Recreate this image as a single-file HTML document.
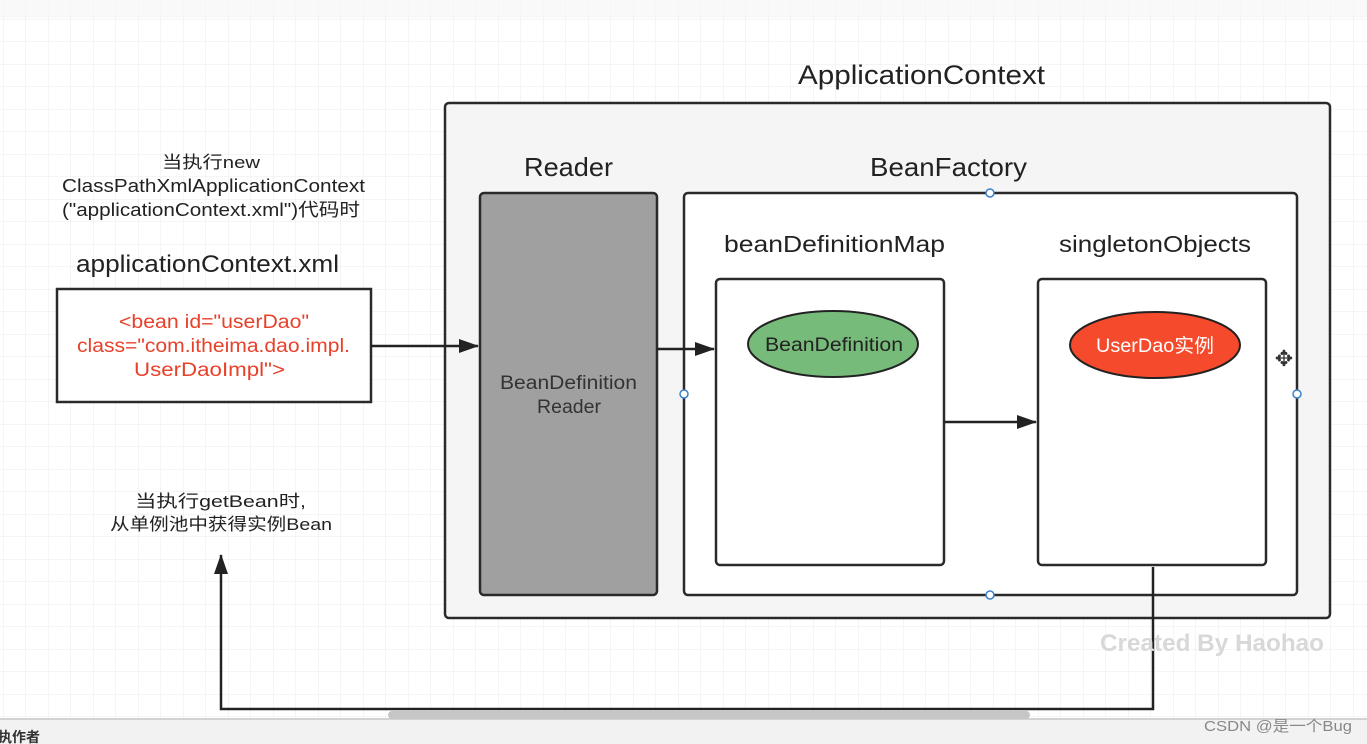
<!DOCTYPE html>
<html><head><meta charset="utf-8"><style>
html,body{margin:0;padding:0;width:1367px;height:744px;overflow:hidden;background:#fff}
svg{display:block}
text{font-family:"Liberation Sans","Noto Sans CJK SC",sans-serif}
</style></head><body>
<svg width="1367" height="744" viewBox="0 0 1367 744" xmlns="http://www.w3.org/2000/svg">
<defs>
<pattern id="g" x="3" y="19" width="22.5" height="22.5" patternUnits="userSpaceOnUse">
<path d="M0 0H22.5M0 0V22.5" stroke="#ebebeb" stroke-width="1" fill="none"/>
</pattern>
<marker id="b" markerWidth="20" markerHeight="14" refX="19" refY="7" orient="auto" markerUnits="userSpaceOnUse">
<path d="M0 0L20 7L0 14Z" fill="#222"/>
</marker>
</defs>
<rect x="0" y="0" width="1367" height="720" fill="#fff"/>
<rect x="0" y="0" width="1367" height="720" fill="url(#g)"/>
<rect x="0" y="0" width="1367" height="18" fill="#f6f6f6" opacity="0.7"/>
<text x="798" y="84" font-size="27" fill="#222" textLength="247" lengthAdjust="spacingAndGlyphs">ApplicationContext</text>
<rect x="445" y="103" width="885" height="515" rx="4" fill="#f5f5f5" stroke="#2a2a2a" stroke-width="2.5"/>
<text x="524" y="176" font-size="26" fill="#222" textLength="89" lengthAdjust="spacingAndGlyphs">Reader</text>
<text x="870" y="176" font-size="26" fill="#222" textLength="157" lengthAdjust="spacingAndGlyphs">BeanFactory</text>
<rect x="480" y="193" width="177" height="402" rx="4" fill="#a0a0a0" stroke="#2a2a2a" stroke-width="2.5"/>
<text x="500" y="389" font-size="19" fill="#333" textLength="137" lengthAdjust="spacingAndGlyphs">BeanDefinition</text>
<text x="537" y="413" font-size="19" fill="#333" textLength="64" lengthAdjust="spacingAndGlyphs">Reader</text>
<rect x="684" y="193" width="613" height="402" rx="4" fill="#fff" stroke="#2a2a2a" stroke-width="2.5"/>
<text x="724" y="252" font-size="23" fill="#222" textLength="221" lengthAdjust="spacingAndGlyphs">beanDefinitionMap</text>
<text x="1059" y="252" font-size="23" fill="#222" textLength="192" lengthAdjust="spacingAndGlyphs">singletonObjects</text>
<rect x="716" y="279" width="228" height="286" rx="4" fill="#fff" stroke="#2a2a2a" stroke-width="2.5"/>
<rect x="1038" y="279" width="228" height="286" rx="4" fill="#fff" stroke="#2a2a2a" stroke-width="2.5"/>
<ellipse cx="833" cy="344" rx="85" ry="33" fill="#77bb7a" stroke="#222" stroke-width="2"/>
<text x="765" y="351" font-size="19" fill="#222" textLength="138" lengthAdjust="spacingAndGlyphs">BeanDefinition</text>
<ellipse cx="1155" cy="345" rx="85" ry="33" fill="#f54a2c" stroke="#222" stroke-width="2"/>
<text x="1096" y="352" font-size="19" fill="#fff" textLength="118" lengthAdjust="spacingAndGlyphs">UserDao实例</text>
<g fill="#fff" stroke="#3b82c8" stroke-width="1.5">
<circle cx="990" cy="193" r="4"/><circle cx="990" cy="595" r="4"/><circle cx="684" cy="394" r="4"/><circle cx="1297" cy="394" r="4"/>
</g>
<text x="1284" y="366" font-size="22" fill="#333" text-anchor="middle">✥</text>
<text x="162" y="168" font-size="17" fill="#222" textLength="98" lengthAdjust="spacingAndGlyphs">当执行new</text>
<text x="62" y="192" font-size="18" fill="#222" textLength="303" lengthAdjust="spacingAndGlyphs">ClassPathXmlApplicationContext</text>
<text x="62" y="216" font-size="18" fill="#222" textLength="298" lengthAdjust="spacingAndGlyphs">("applicationContext.xml")代码时</text>
<text x="76" y="272" font-size="24" fill="#222" textLength="263" lengthAdjust="spacingAndGlyphs">applicationContext.xml</text>
<rect x="57" y="289" width="314" height="113" fill="#fff" stroke="#2a2a2a" stroke-width="2.5"/>
<text x="119" y="328" font-size="19" fill="#e8412a" textLength="190" lengthAdjust="spacingAndGlyphs">&lt;bean id="userDao"</text>
<text x="77" y="352" font-size="19" fill="#e8412a" textLength="273" lengthAdjust="spacingAndGlyphs">class="com.itheima.dao.impl.</text>
<text x="134" y="376" font-size="19" fill="#e8412a" textLength="151" lengthAdjust="spacingAndGlyphs">UserDaoImpl"&gt;</text>
<text x="135" y="507" font-size="17" fill="#222" textLength="171" lengthAdjust="spacingAndGlyphs">当执行getBean时,</text>
<text x="110" y="530" font-size="17" fill="#222" textLength="222" lengthAdjust="spacingAndGlyphs">从单例池中获得实例Bean</text>
<g stroke="#222" stroke-width="2.5" fill="none">
<line x1="371" y1="346" x2="478" y2="346" marker-end="url(#b)"/>
<line x1="657" y1="349" x2="714" y2="349" marker-end="url(#b)"/>
<line x1="945" y1="422" x2="1036" y2="422" marker-end="url(#b)"/>
<polyline points="1153,567 1153,709 221,709 221,555" marker-end="url(#b)"/>
</g>
<text x="1100" y="651" font-size="24" fill="#d8d8d8" font-weight="bold" textLength="224" lengthAdjust="spacingAndGlyphs">Created By Haohao</text>
<rect x="0" y="718" width="1367" height="26" fill="#f2f2f2"/>
<line x1="0" y1="719" x2="1367" y2="719" stroke="#c8c8c8" stroke-width="1.5"/>
<rect x="388" y="711" width="642" height="8" rx="4" fill="#c6c6c6"/>
<text x="-2" y="742" font-size="14" fill="#333" font-weight="bold">执作者</text>
<text x="1204" y="731" font-size="15" fill="#888" textLength="148" lengthAdjust="spacingAndGlyphs">CSDN @是一个Bug</text>
</svg>
</body></html>
